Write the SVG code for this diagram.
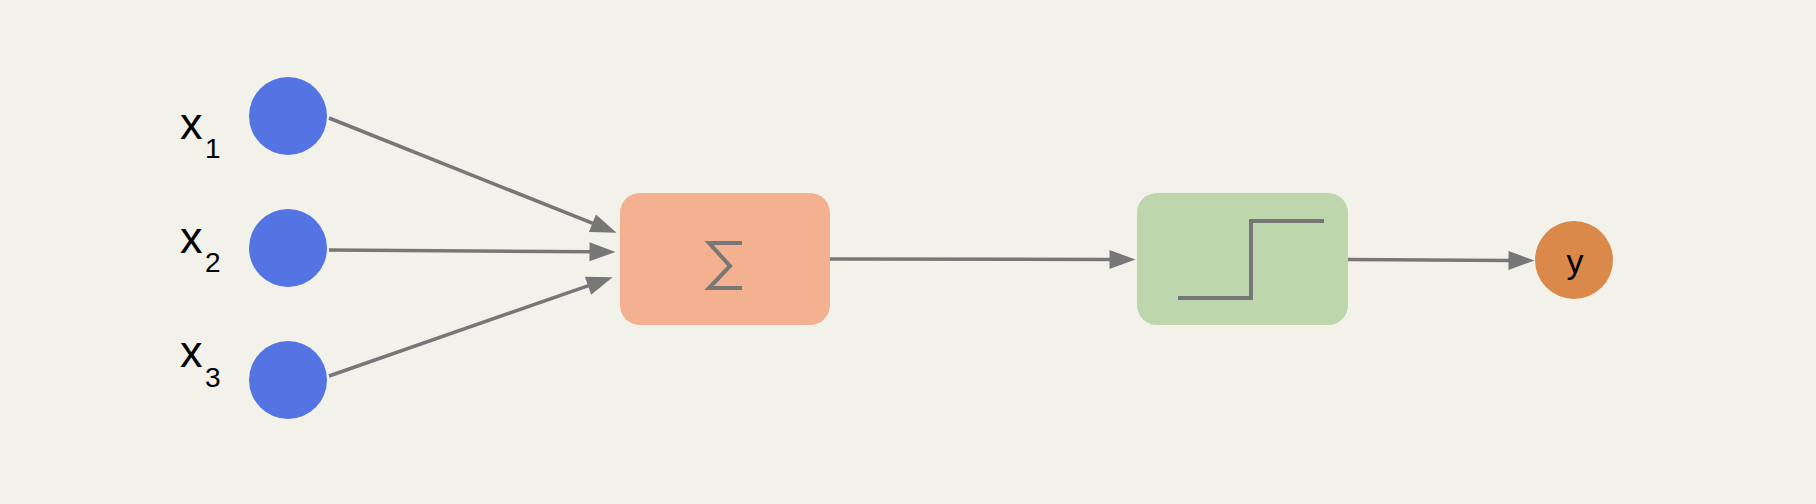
<svg xmlns="http://www.w3.org/2000/svg" width="1816" height="504" viewBox="0 0 1816 504">
<style>
.in{fill:#5474e4}
.lbl{font-family:"Liberation Sans",Arial,sans-serif;fill:#000}
.big{font-size:45px}
.sub{font-size:28px}
.edge{stroke:#777;stroke-width:3.5;fill:none}
.icon{stroke:#777;stroke-width:4;fill:none}
</style>
<defs>
<marker id="ah" markerUnits="userSpaceOnUse" markerWidth="27" markerHeight="19" refX="0.5" refY="9.5" orient="auto" overflow="visible">
<path d="M0,0 L26,9.5 L0,19 z" fill="#777"/>
</marker>
</defs>
<rect width="1816" height="504" fill="#f3f2ea"/>
<g id="x1">
<circle class="in" cx="288" cy="116" r="39"/>
<text class="lbl big" x="180" y="139">x</text>
<text class="lbl sub" x="205" y="158">1</text>
</g>
<g id="x2">
<circle class="in" cx="288" cy="248" r="39"/>
<text class="lbl big" x="180" y="253">x</text>
<text class="lbl sub" x="205" y="272">2</text>
</g>
<g id="x3">
<circle class="in" cx="288" cy="380" r="39"/>
<text class="lbl big" x="180" y="367">x</text>
<text class="lbl sub" x="205" y="387">3</text>
</g>
<g id="sum">
<rect x="620" y="193" width="210" height="132" rx="20" fill="#f4b18f"/>
<polyline class="icon" points="742,243 709,243 730,266 709,288 742,288" stroke-linejoin="miter"/>
</g>
<g id="step">
<rect x="1137" y="193" width="211" height="132" rx="20" fill="#bed6ab"/>
<polyline class="icon" points="1178,298 1251,298 1251,221 1324,221"/>
</g>
<g id="y">
<circle cx="1574" cy="260" r="39" fill="#db894a"/>
<text class="lbl" x="1575" y="273" font-size="34" text-anchor="middle">y</text>
</g>
<g id="connectors">
<line class="edge" x1="329" y1="118" x2="592.9" y2="223.4" marker-end="url(#ah)"/>
<line class="edge" x1="329" y1="250" x2="590" y2="251.8" marker-end="url(#ah)"/>
<line class="edge" x1="329" y1="376" x2="588.5" y2="285.6" marker-end="url(#ah)"/>
<line class="edge" x1="830" y1="259" x2="1110" y2="259.5" marker-end="url(#ah)"/>
<line class="edge" x1="1348" y1="259.5" x2="1509" y2="260.4" marker-end="url(#ah)"/>
</g>
</svg>
